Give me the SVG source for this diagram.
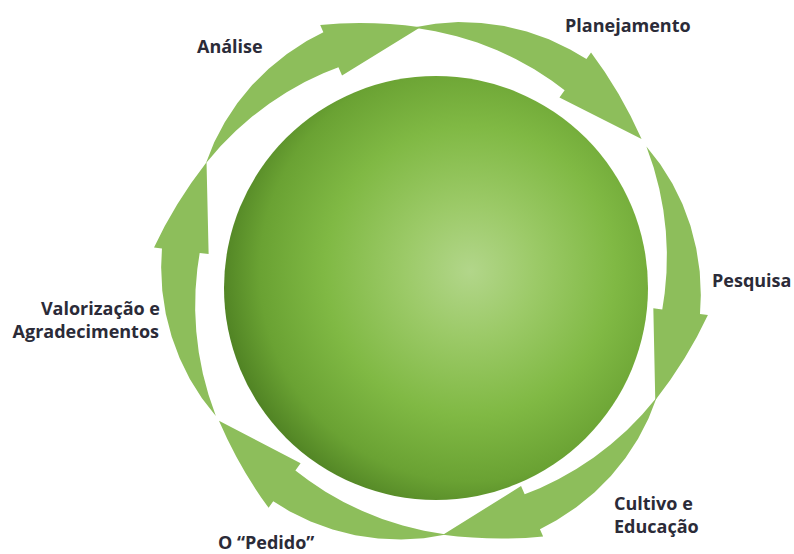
<svg xmlns="http://www.w3.org/2000/svg" xmlns:xlink="http://www.w3.org/1999/xlink" width="794" height="554" viewBox="0 0 794 554">
<style>
.arrow{fill:#8dbe5b}
.label{font-family:"Open Sans","Liberation Sans",sans-serif;font-weight:700;font-size:18px;fill:#2b2b38}
.end{text-anchor:end}
</style>
<defs>
<radialGradient id="sphereGrad" cx="0.58" cy="0.46" r="0.62" fx="0.58" fy="0.46">
<stop offset="0" stop-color="#b2d68a"/>
<stop offset="0.25" stop-color="#9cca68"/>
<stop offset="0.55" stop-color="#80b944"/>
<stop offset="0.8" stop-color="#6aa233"/>
<stop offset="1" stop-color="#48791f"/>
</radialGradient>
<path id="arrowShape" d="M254,0 L256.34,22.43 L256.35,45.20 L253.99,68.06 L249.27,90.73 L242.20,112.94 L232.87,134.45 L221.33,154.98 L210.61,170.55 L216.82,175.58 Q175.97,202.15 127,219.97 L174.08,140.97 L181.08,146.63 L191.68,134.22 L204.05,117.81 L215.38,100.43 L225.60,82.11 L234.66,62.88 L242.47,42.75 L248.95,21.78 Z"/>
</defs>
<rect width="794" height="554" fill="#ffffff"/>
<g id="sphere"><circle cx="436" cy="288" r="212" fill="url(#sphereGrad)"/></g>
<g id="connectors" transform="translate(431,281)">
<use xlink:href="#arrowShape" class="arrow" transform="rotate(-152.4)"/>
<use xlink:href="#arrowShape" class="arrow" transform="rotate(-94)"/>
<use xlink:href="#arrowShape" class="arrow" transform="rotate(-32)"/>
<use xlink:href="#arrowShape" class="arrow" transform="rotate(27.3)"/>
<use xlink:href="#arrowShape" class="arrow" transform="rotate(86.6)"/>
<use xlink:href="#arrowShape" class="arrow" transform="rotate(147.9)"/>
</g>
<g id="analise"><text class="label" x="197" y="53">Análise</text></g>
<g id="planejamento"><text class="label" x="565" y="32">Planejamento</text></g>
<g id="pesquisa"><text class="label" x="712" y="287">Pesquisa</text></g>
<g id="cultivo"><text class="label" x="614" y="510">Cultivo e</text><text class="label" x="614" y="533">Educação</text></g>
<g id="pedido"><text class="label" x="218" y="549">O “Pedido”</text></g>
<g id="valorizacao"><text class="label end" x="160" y="315">Valorização e</text><text class="label end" x="159" y="338">Agradecimentos</text></g>
</svg>
